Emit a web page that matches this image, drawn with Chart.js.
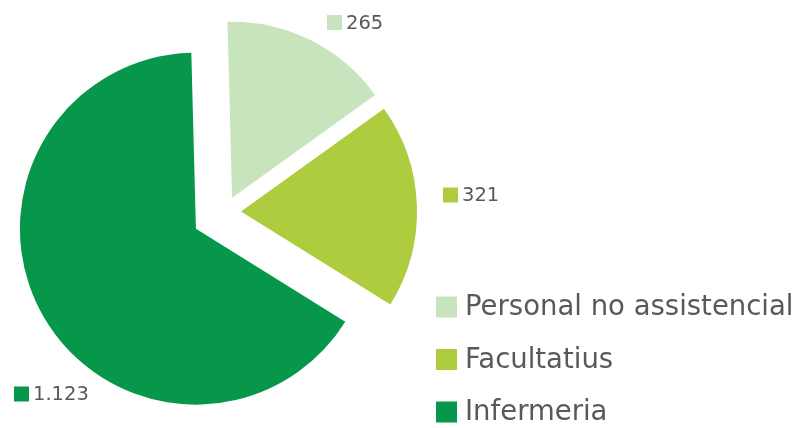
<!DOCTYPE html>
<html>
<head>
<meta charset="utf-8">
<script src="https://cdn.jsdelivr.net/npm/chart.js@4.4.0/dist/chart.umd.min.js"></script>
<style>
  html, body { margin: 0; padding: 0; background: #fff; }
  #wrap { width: 800px; height: 428px; position: relative; }
</style>
</head>
<body>
<div id="wrap"><canvas id="myChart"></canvas></div>
<script>
const categories = ["Personal no assistencial", "Facultatius", "Infermeria"];
const values = [265, 321, 1123];
const valueLabels = ["265", "321", "1.123"];
const colors = ["#c8e4bc", "#adcd3f", "#06974a"];
const explode = [64, 64, 134];

const textColor = "#595959";
const font = "DejaVu Sans";

// chart.js grows and trims exploded arcs, undo it so all slices keep one radius
const keepRadius = {
  id: "keepRadius",
  afterDatasetUpdate(chart, args) {
    args.meta.data.forEach((arc) => {
      const off = (arc.options.offset || 0) / 4;
      const fix = 1 - Math.sin(Math.min(Math.PI, arc.circumference));
      const ro = off * fix;
      const r = arc.outerRadius;
      const t = ro / (2 * Math.PI * r);
      arc.outerRadius = r - ro;
      arc.startAngle -= t;
      arc.endAngle += t;
    });
  },
};

// value labels next to the slices, with a small colour key
const valueTags = {
  id: "valueTags",
  afterDraw(chart, args, opts) {
    const ctx = chart.ctx;
    ctx.save();
    ctx.font = opts.size + "px '" + font + "'";
    ctx.textBaseline = "middle";
    ctx.textAlign = "left";
    opts.at.forEach((p, i) => {
      ctx.fillStyle = colors[i];
      ctx.fillRect(p[0], p[1] - 7.5, 15, 15);
      ctx.fillStyle = textColor;
      ctx.fillText(valueLabels[i], p[0] + 19, p[1] + 1);
    });
    ctx.restore();
  },
};

// legend in the lower right corner
const sideLegend = {
  id: "sideLegend",
  afterDraw(chart, args, opts) {
    const ctx = chart.ctx;
    ctx.save();
    ctx.font = opts.size + "px '" + font + "'";
    ctx.textBaseline = "middle";
    ctx.textAlign = "left";
    categories.forEach((c, i) => {
      const y = opts.top + i * opts.step;
      ctx.fillStyle = colors[i];
      ctx.fillRect(opts.left, y - 10.5, 21, 21);
      ctx.fillStyle = textColor;
      ctx.fillText(c, opts.left + 29, y + 1);
    });
    ctx.restore();
  },
};

const config = {
  type: "pie",
  data: {
    labels: categories,
    datasets: [
      {
        data: values,
        backgroundColor: colors,
        borderWidth: 0,
        offset: explode,
        hoverOffset: 0,
        radius: 176,
        rotation: -1.5,
      },
    ],
  },
  options: {
    responsive: true,
    maintainAspectRatio: false,
    animation: false,
    layout: { padding: { left: 0, right: 350, top: 0, bottom: 4 } },
    plugins: {
      legend: { display: false },
      tooltip: { enabled: false },
      valueTags: { size: 19.5, at: [[327, 22.5], [443, 195], [14, 394]] },
      sideLegend: { size: 27.5, left: 436, top: 307, step: 52.5 },
    },
  },
  plugins: [keepRadius, valueTags, sideLegend],
};

myChart = new Chart(document.getElementById("myChart"), config);
</script>
</body>
</html>
